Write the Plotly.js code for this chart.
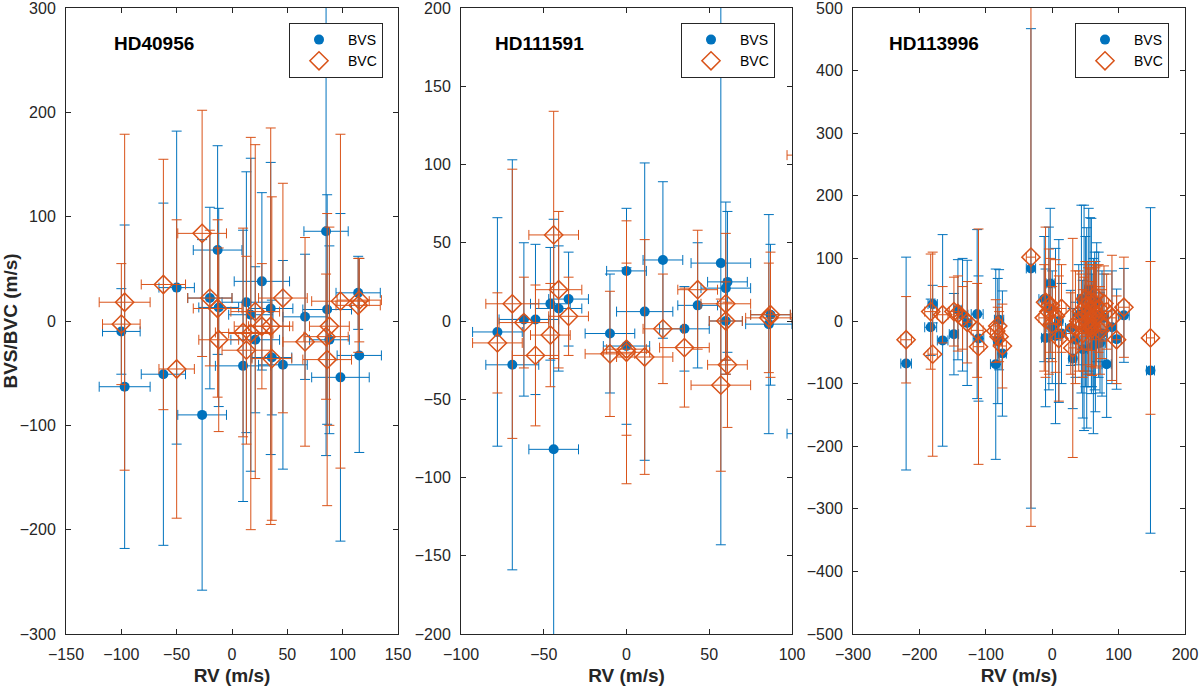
<!DOCTYPE html>
<html>
<head>
<meta charset="utf-8">
<script src="https://cdn.plot.ly/plotly-3.0.1.min.js"></script>
<style>
  html, body { margin: 0; padding: 0; background: #ffffff; }
  #chart { width: 1200px; height: 690px; }
</style>
</head>
<body>
<div id="chart"></div>
<script>
const BVS_COLOR = "#0072BD";
const BVC_COLOR = "#D95319";
const AXIS_COLOR = "#262626";
const FONT = "Liberation Sans, Arial, Helvetica, sans-serif";

// HD40956
const hd40956Rv = [-100, -97, -62, -50, -27, -20, -13, -12, 10, 13, 17, 21, 27, 35, 36, 46, 66, 85, 86, 88, 98, 114, 115];
const hd40956RvErr = [17, 23, 20, 16, 22, 20, 22, 18, 25, 22, 20, 22, 25, 20, 18, 22, 20, 20, 22, 18, 26, 20, 20];
const hd40956Bvs = [-10, -63, -51, 32, -90, 22, 68, 13, -43, 18, 6, -18, 38, 12, -35, -42, 4, 86, 11, -18, -54, 27, -33];
const hd40956BvsErr = [41, 155, 164, 150, 168, 87, 100, 95, 130, 125, 150, 70, 85, 140, 55, 100, 60, 215, 110, 90, 157, 35, 93];
const hd40956Bvc = [-3, 18, 35, -46, 84, 22, 12, -18, -11, -28, -12, 9, -5, -5, -36, 22, -20, -15, -37, -5, 19, 15, 20];
const hd40956BvcErr = [58, 161, 120, 143, 118, 65, 85, 88, 100, 90, 188, 160, 60, 190, 155, 110, 100, 60, 140, 95, 160, 45, 40];

// HD111591
const hd111591Rv = [-78, -69, -62, -55, -46, -44, -41, -35, -10, 0, 0, 11, 22, 35, 43, 57, 60, 61, 60, 86, 87, 108];
const hd111591RvErr = [15, 16, 15, 14, 12, 15, 14, 12, 15, 14, 12, 17, 12, 15, 12, 18, 15, 12, 10, 14, 12, 11];
const hd111591Bvs = [-7, -28, 1, 1, 11, -82, 8, 14, -8, -16, 32, 6, 39, -5, 10, 37, 21, 25, 0, -2, 4, -72];
const hd111591BvsErr = [73, 131, 49, 48, 36, 147, 40, 30, 38, 50, 40, 95, 50, 27, 40, 180, 55, 45, 25, 70, 45, 20];
const hd111591Bvc = [-14, 11, -1, -22, -9, 55, 20, 3, -21, -20, -18, -23, -5, -17, 20, -41, 11, -28, 0, 2, 4, 106];
const hd111591BvcErr = [32, 86, 29, 45, 33, 79, 50, 25, 40, 84, 55, 75, 35, 38, 38, 55, 45, 40, 25, 35, 40, 20];

// HD113996
const hd113996Rv = [-220, -183, -180, -165, -148, -142, -135, -128, -113, -111, -85, -82, -80, -75,
  -32, -12, -10, -5, -3, 0, 5, 10, 14, 28, 31, 35, 40, 44, 48, 52, 55, 59, 62, 65, 70, 75, 82, 90, 97, 108, 148,
  46, 50, 54, 57, 60, 64, 67, 72, 78];
const hd113996RvErr = [8, 9, 7, 8, 7, 6, 8, 7, 9, 8, 8, 6, 7, 6,
  7, 8, 6, 7, 6, 8, 7, 6, 7, 8, 6, 7, 8, 6, 7, 8, 6, 7, 8, 7, 6, 8, 7, 6, 7, 8, 6,
  7, 8, 6, 7, 8, 6, 7, 8, 7];
const hd113996Bvs = [-68, -10, 27, -31, -21, 18, 10, -3, 11, -28, -69, -32, 2, -52,
  84, 35, -27, 20, 60, -10, -24, 0, -20, -11, -60, -30, 10, 35, 5, -11, 50, 24, -40, -25, 10, -20, -69, -10, -29, 9, -79,
  -45, 15, -5, 40, -15, 0, 30, -35, 5];
const hd113996BvsErr = [170, 45, 30, 169, 65, 80, 90, 100, 135, 100, 152, 100, 80, 100,
  383, 100, 110, 130, 120, 90, 140, 130, 80, 60, 80, 60, 80, 150, 180, 160, 130, 140, 140, 120, 100, 100, 85, 90, 80, 75, 260,
  110, 120, 100, 125, 90, 110, 95, 80, 70];
const hd113996Bvc = [-30, 15, -53, 10, 15, 12, 5, -2, -15, -41, -16, -8, -25, -40,
  102, 5, 30, 15, 25, -5, 8, -28, 20, -20, -43, -10, 0, 15, -5, 25, 10, -8, 30, 5, 20, -5, 15, 5, -30, 22, -27,
  -20, 35, 0, 18, -12, 40, 8, -15, 28];
const hd113996BvcErr = [69, 92, 163, 45, 55, 60, 50, 65, 75, 188, 50, 30, 40, 67,
  430, 85, 120, 100, 75, 60, 90, 100, 70, 65, 175, 90, 80, 60, 75, 70, 80, 65, 60, 80, 70, 55, 60, 100, 70, 80, 122,
  70, 60, 85, 65, 75, 55, 80, 70, 60];

const panels = [
  {
    name: "HD40956", rv: hd40956Rv, rvErr: hd40956RvErr,
    bvs: hd40956Bvs, bvsErr: hd40956BvsErr, bvc: hd40956Bvc, bvcErr: hd40956BvcErr,
    xRange: [-150, 150], xStep: 50, yRange: [-300, 300], yStep: 100,
    domain: [66, 398], legendX: 383, labelX: 0.139
  },
  {
    name: "HD111591", rv: hd111591Rv, rvErr: hd111591RvErr,
    bvs: hd111591Bvs, bvsErr: hd111591BvsErr, bvc: hd111591Bvc, bvcErr: hd111591BvcErr,
    xRange: [-100, 100], xStep: 50, yRange: [-200, 200], yStep: 50,
    domain: [461, 792], legendX: 775, labelX: 0.097
  },
  {
    name: "HD113996", rv: hd113996Rv, rvErr: hd113996RvErr,
    bvs: hd113996Bvs, bvsErr: hd113996BvsErr, bvc: hd113996Bvc, bvcErr: hd113996BvcErr,
    xRange: [-300, 200], xStep: 100, yRange: [-500, 500], yStep: 100,
    domain: [853, 1185], legendX: 1169, labelX: 0.102
  }
];

const W = 1200;
const H = 690;
const yDomain = [1 - 634 / H, 1 - 8 / H];

const errBar = (values, color) => ({
  type: "data",
  array: values,
  visible: true,
  color: color,
  thickness: 1,
  width: 5
});

const data = [];
const layout = {
  width: W,
  height: H,
  margin: { t: 0, r: 0, b: 0, l: 0 },
  paper_bgcolor: "#ffffff",
  plot_bgcolor: "#ffffff",
  font: { family: FONT, size: 16, color: AXIS_COLOR },
  showlegend: true,
  annotations: []
};

panels.forEach((p, i) => {
  const n = i === 0 ? "" : String(i + 1);
  const legendId = "legend" + n;

  data.push({
    x: p.rv,
    y: p.bvs,
    type: "scatter",
    mode: "markers",
    name: "BVS",
    xaxis: "x" + n,
    yaxis: "y" + n,
    legend: legendId,
    marker: { symbol: "circle", size: 10, color: BVS_COLOR },
    error_x: errBar(p.rvErr, BVS_COLOR),
    error_y: errBar(p.bvsErr, BVS_COLOR),
    hoverinfo: "skip"
  });
  data.push({
    x: p.rv,
    y: p.bvc,
    type: "scatter",
    mode: "markers",
    name: "BVC",
    xaxis: "x" + n,
    yaxis: "y" + n,
    legend: legendId,
    marker: { symbol: "diamond-open", size: 14, color: BVC_COLOR, line: { width: 1.5, color: BVC_COLOR } },
    error_x: errBar(p.rvErr, BVC_COLOR),
    error_y: errBar(p.bvcErr, BVC_COLOR),
    hoverinfo: "skip"
  });

  const axisCommon = {
    showgrid: false,
    zeroline: false,
    showline: true,
    mirror: "ticks",
    linecolor: AXIS_COLOR,
    linewidth: 1,
    ticks: "inside",
    ticklen: 5,
    tickcolor: AXIS_COLOR,
    tickfont: { family: FONT, size: 16, color: AXIS_COLOR },
    ticklabelstandoff: 6,
    ticklabeloverflow: "allow"
  };

  layout["xaxis" + n] = {
    ...axisCommon,
    domain: [p.domain[0] / W, p.domain[1] / W],
    range: p.xRange,
    dtick: p.xStep,
    tick0: 0,
    anchor: "y" + n,
    title: { text: "<b>RV (m/s)</b>", font: { family: FONT, size: 19, color: AXIS_COLOR }, standoff: 6 }
  };
  layout["yaxis" + n] = {
    ...axisCommon,
    domain: yDomain,
    range: p.yRange,
    dtick: p.yStep,
    tick0: 0,
    anchor: "x" + n,
    title: i === 0
      ? { text: "<b>BVS/BVC (m/s)</b>", font: { family: FONT, size: 19, color: AXIS_COLOR }, standoff: 4 }
      : { text: "" }
  };

  layout[legendId] = {
    x: p.legendX / W,
    y: 1 - 23 / H,
    xanchor: "right",
    yanchor: "top",
    bgcolor: "#ffffff",
    bordercolor: AXIS_COLOR,
    borderwidth: 1,
    itemwidth: 48,
    font: { family: FONT, size: 14, color: "#000000" }
  };

  layout.annotations.push({
    text: "<b>" + p.name + "</b>",
    xref: "x" + n + " domain",
    yref: "y" + n + " domain",
    x: p.labelX,
    y: (634 - 43) / 626,
    xanchor: "left",
    yanchor: "middle",
    showarrow: false,
    font: { family: FONT, size: 19, color: "#000000" }
  });
});

Plotly.newPlot("chart", data, layout, { displayModeBar: false, staticPlot: true });
</script>
</body>
</html>
